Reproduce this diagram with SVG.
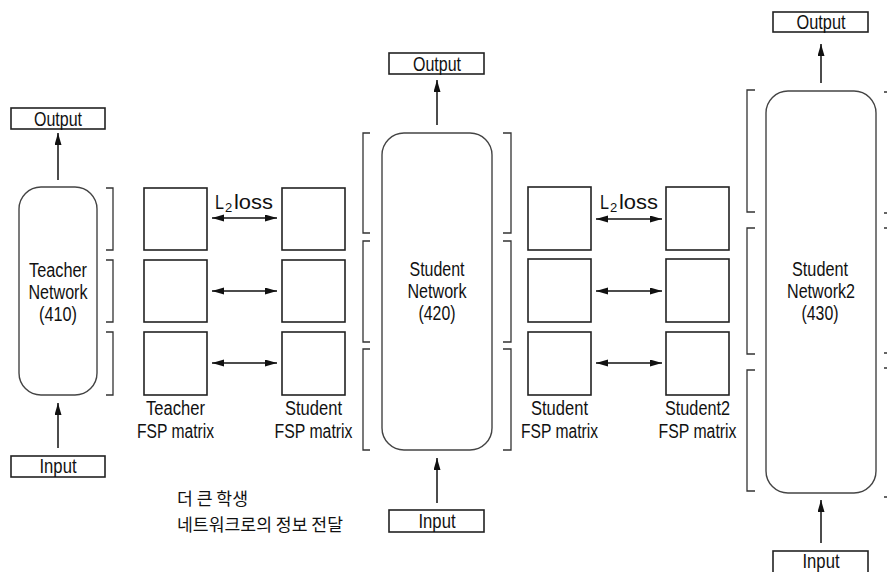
<svg xmlns="http://www.w3.org/2000/svg" width="887" height="572" viewBox="0 0 887 572">
<defs>
<marker id="ah" markerUnits="userSpaceOnUse" markerWidth="13" markerHeight="8" refX="12" refY="3.5" orient="auto-start-reverse">
<path d="M0,0 L12,3.5 L0,7 z" fill="#111"/>
</marker>
<style>
.box{fill:#fff;stroke:#222;stroke-width:1.6}
.net{fill:#fff;stroke:#444;stroke-width:1.4}
.br{fill:none;stroke:#333;stroke-width:1.3}
.t{font-family:"Liberation Sans",Arial,sans-serif;font-size:20px;fill:#111;text-anchor:middle}
.ts{font-family:"Liberation Sans",Arial,sans-serif;font-size:21px;fill:#111}
.sub{font-family:"Liberation Sans",Arial,sans-serif;font-size:13px;fill:#111}
.kr{font-family:"Noto Sans CJK KR","Noto Sans",sans-serif;font-size:17px;fill:#111}
.c{fill:none;stroke:#111;stroke-width:1.5}
</style>
</defs>
<rect width="887" height="572" fill="#fff"/>

<!-- Teacher side -->
<g id="teacher-output">
<rect class="box" x="11" y="108" width="94" height="21"/>
<text class="t" x="58" y="126" textLength="48" lengthAdjust="spacingAndGlyphs">Output</text>
</g>
<g id="teacher-network">
<rect class="net" x="19" y="187" width="78" height="208" rx="22"/>
<text class="t" x="58" y="277" textLength="58" lengthAdjust="spacingAndGlyphs">Teacher</text>
<text class="t" x="58" y="299" textLength="59" lengthAdjust="spacingAndGlyphs">Network</text>
<text class="t" x="58" y="321" textLength="38" lengthAdjust="spacingAndGlyphs">(410)</text>
</g>
<g id="teacher-input">
<rect class="box" x="11" y="456" width="94" height="21"/>
<text class="t" x="58" y="473" textLength="37" lengthAdjust="spacingAndGlyphs">Input</text>
</g>
<g id="teacher-brackets">
<path class="br" d="M106,188 H113 V250 H106 M106,260 H113 V322 H106 M106,332 H113 V395 H106"/>
</g>
<g id="teacher-fsp">
<rect class="box" x="144" y="188" width="63" height="62"/>
<rect class="box" x="144" y="260" width="63" height="62"/>
<rect class="box" x="144" y="332" width="63" height="63"/>
<text class="t" x="175.5" y="415" textLength="59" lengthAdjust="spacingAndGlyphs">Teacher</text>
<text class="t" x="175.5" y="438" textLength="77" lengthAdjust="spacingAndGlyphs">FSP matrix</text>
</g>
<g id="student-fsp-1">
<rect class="box" x="282" y="188" width="63" height="62"/>
<rect class="box" x="282" y="260" width="63" height="62"/>
<rect class="box" x="282" y="332" width="63" height="63"/>
<text class="t" x="313.5" y="415" textLength="57" lengthAdjust="spacingAndGlyphs">Student</text>
<text class="t" x="313.5" y="438" textLength="78" lengthAdjust="spacingAndGlyphs">FSP matrix</text>
</g>
<g id="loss-label-1">
<text class="ts" x="215" y="209" textLength="9" lengthAdjust="spacingAndGlyphs">L</text>
<text class="sub" x="225" y="212">2</text>
<text class="ts" x="234" y="209" textLength="39" lengthAdjust="spacingAndGlyphs">loss</text>
</g>
<g id="caption">
<text class="kr" x="177" y="505" textLength="71" lengthAdjust="spacingAndGlyphs">더 큰 학생</text>
<text class="kr" x="177" y="531" textLength="166" lengthAdjust="spacingAndGlyphs">네트워크로의 정보 전달</text>
</g>

<!-- Student network (center) -->
<g id="student-output">
<rect class="box" x="389" y="53" width="95" height="21"/>
<text class="t" x="437" y="71" textLength="48" lengthAdjust="spacingAndGlyphs">Output</text>
</g>
<g id="student-network">
<rect class="net" x="382" y="133" width="110" height="317" rx="22"/>
<text class="t" x="437" y="276" textLength="55" lengthAdjust="spacingAndGlyphs">Student</text>
<text class="t" x="437" y="298" textLength="59" lengthAdjust="spacingAndGlyphs">Network</text>
<text class="t" x="437" y="320" textLength="37" lengthAdjust="spacingAndGlyphs">(420)</text>
</g>
<g id="student-input">
<rect class="box" x="389" y="510" width="95" height="22"/>
<text class="t" x="437" y="528" textLength="37" lengthAdjust="spacingAndGlyphs">Input</text>
</g>
<g id="student-brackets">
<path class="br" d="M370,133 H363 V233 H370 M370,241 H363 V342 H370 M370,349 H363 V450 H370"/>
<path class="br" d="M503,133 H511 V233 H503 M503,241 H511 V342 H503 M503,349 H511 V450 H503"/>
</g>
<g id="student-fsp-2">
<rect class="box" x="528" y="187" width="63" height="63"/>
<rect class="box" x="528" y="259" width="63" height="63"/>
<rect class="box" x="528" y="332" width="63" height="63"/>
<text class="t" x="559.5" y="415" textLength="57" lengthAdjust="spacingAndGlyphs">Student</text>
<text class="t" x="559.5" y="438" textLength="77" lengthAdjust="spacingAndGlyphs">FSP matrix</text>
</g>
<g id="student2-fsp">
<rect class="box" x="666" y="187" width="63" height="63"/>
<rect class="box" x="666" y="259" width="63" height="63"/>
<rect class="box" x="666" y="332" width="63" height="63"/>
<text class="t" x="697.5" y="415" textLength="65" lengthAdjust="spacingAndGlyphs">Student2</text>
<text class="t" x="697.5" y="438" textLength="78" lengthAdjust="spacingAndGlyphs">FSP matrix</text>
</g>
<g id="loss-label-2">
<text class="ts" x="600" y="209" textLength="9" lengthAdjust="spacingAndGlyphs">L</text>
<text class="sub" x="610" y="212">2</text>
<text class="ts" x="619" y="209" textLength="39" lengthAdjust="spacingAndGlyphs">loss</text>
</g>

<!-- Student network 2 -->
<g id="student2-output">
<rect class="box" x="773" y="12" width="95" height="20"/>
<text class="t" x="821" y="29" textLength="49" lengthAdjust="spacingAndGlyphs">Output</text>
</g>
<g id="student2-network">
<rect class="net" x="766" y="91" width="110" height="402" rx="22"/>
<text class="t" x="820" y="276" textLength="56" lengthAdjust="spacingAndGlyphs">Student</text>
<text class="t" x="821" y="298" textLength="68" lengthAdjust="spacingAndGlyphs">Network2</text>
<text class="t" x="820" y="320" textLength="37" lengthAdjust="spacingAndGlyphs">(430)</text>
</g>
<g id="student2-input">
<rect class="box" x="773" y="551" width="95" height="26"/>
<text class="t" x="821" y="568" textLength="37" lengthAdjust="spacingAndGlyphs">Input</text>
</g>
<g id="student2-brackets">
<path class="br" d="M755,90 H747 V212 H755 M755,228 H747 V354 H755 M755,370 H747 V491 H755"/>
<path class="br" d="M884,92 H892 M884,213 H892 M884,228 H892 M884,353 H892 M884,368 H892 M884,497 H892"/>
</g>

<!-- Connectors -->
<g id="connectors">
<line class="c" x1="58" y1="180" x2="58" y2="133" marker-end="url(#ah)"/>
<line class="c" x1="58" y1="448" x2="58" y2="403" marker-end="url(#ah)"/>
<line class="c" x1="212" y1="218" x2="277" y2="218" marker-start="url(#ah)" marker-end="url(#ah)"/>
<line class="c" x1="212" y1="291" x2="277" y2="291" marker-start="url(#ah)" marker-end="url(#ah)"/>
<line class="c" x1="212" y1="363" x2="277" y2="363" marker-start="url(#ah)" marker-end="url(#ah)"/>
<line class="c" x1="437" y1="125" x2="437" y2="80" marker-end="url(#ah)"/>
<line class="c" x1="437" y1="503" x2="437" y2="458" marker-end="url(#ah)"/>
<line class="c" x1="596" y1="219" x2="662" y2="219" marker-start="url(#ah)" marker-end="url(#ah)"/>
<line class="c" x1="596" y1="291" x2="662" y2="291" marker-start="url(#ah)" marker-end="url(#ah)"/>
<line class="c" x1="596" y1="363" x2="662" y2="363" marker-start="url(#ah)" marker-end="url(#ah)"/>
<line class="c" x1="821" y1="83" x2="821" y2="44" marker-end="url(#ah)"/>
<line class="c" x1="821" y1="543" x2="821" y2="500" marker-end="url(#ah)"/>
</g>
</svg>
